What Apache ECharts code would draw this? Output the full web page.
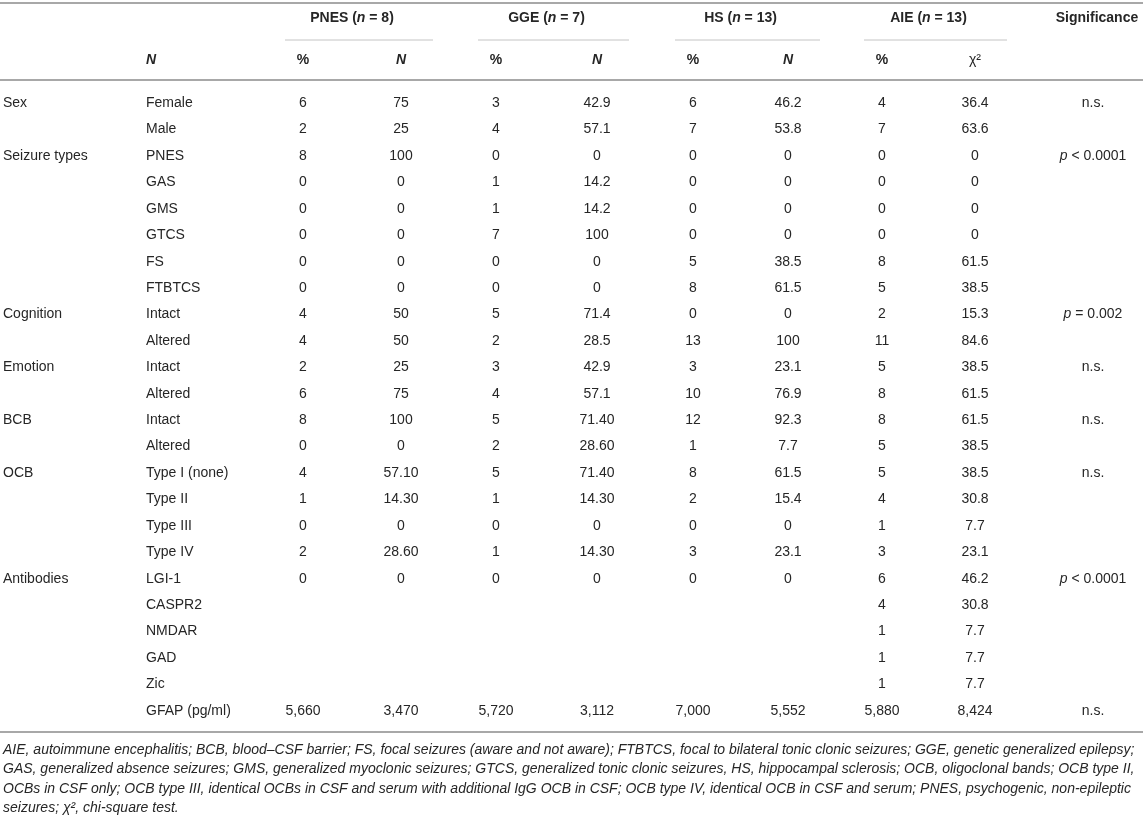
<!DOCTYPE html>
<html>
<head>
<meta charset="utf-8">
<title>Table</title>
<script src="https://cdn.jsdelivr.net/npm/echarts@6/dist/echarts.min.js"></script>
<style>
    html, body { margin: 0; padding: 0; background: #fff; }
    #tableChart { width: 1143px; height: 820px; }
</style>
</head>
<body>
<div id="tableChart"></div>
<script>
// row labels
var groups = ['Sex', '', 'Seizure types', '', '', '', '', '', 'Cognition', '', 'Emotion', '', 'BCB', '', 'OCB', '', '', '', 'Antibodies', '', '', '', '', ''];
var items = ['Female', 'Male', 'PNES', 'GAS', 'GMS', 'GTCS', 'FS', 'FTBTCS', 'Intact', 'Altered', 'Intact', 'Altered', 'Intact', 'Altered', 'Type I (none)', 'Type II', 'Type III', 'Type IV', 'LGI-1', 'CASPR2', 'NMDAR', 'GAD', 'Zic', 'GFAP (pg/ml)'];

// cell values per column
var pnesPct = ['6', '2', '8', '0', '0', '0', '0', '0', '4', '4', '2', '6', '8', '0', '4', '1', '0', '2', '0', '', '', '', '', '5,660'];
var pnesN = ['75', '25', '100', '0', '0', '0', '0', '0', '50', '50', '25', '75', '100', '0', '57.10', '14.30', '0', '28.60', '0', '', '', '', '', '3,470'];
var ggePct = ['3', '4', '0', '1', '1', '7', '0', '0', '5', '2', '3', '4', '5', '2', '5', '1', '0', '1', '0', '', '', '', '', '5,720'];
var ggeN = ['42.9', '57.1', '0', '14.2', '14.2', '100', '0', '0', '71.4', '28.5', '42.9', '57.1', '71.40', '28.60', '71.40', '14.30', '0', '14.30', '0', '', '', '', '', '3,112'];
var hsPct = ['6', '7', '0', '0', '0', '0', '5', '8', '0', '13', '3', '10', '12', '1', '8', '2', '0', '3', '0', '', '', '', '', '7,000'];
var hsN = ['46.2', '53.8', '0', '0', '0', '0', '38.5', '61.5', '0', '100', '23.1', '76.9', '92.3', '7.7', '61.5', '15.4', '0', '23.1', '0', '', '', '', '', '5,552'];
var aiePct = ['4', '7', '0', '0', '0', '0', '8', '5', '2', '11', '5', '8', '8', '5', '5', '4', '1', '3', '6', '4', '1', '1', '1', '5,880'];
var aieChi = ['36.4', '63.6', '0', '0', '0', '0', '61.5', '38.5', '15.3', '84.6', '38.5', '61.5', '61.5', '38.5', '38.5', '30.8', '7.7', '23.1', '46.2', '30.8', '7.7', '7.7', '7.7', '8,424'];
var significance = ['n.s.', '', 'p < 0.0001', '', '', '', '', '', 'p = 0.002', '', 'n.s.', '', 'n.s.', '', 'n.s.', '', '', '', 'p < 0.0001', '', '', '', '', 'n.s.'];

// header texts
var groupHeads = [['PNES', '8'], ['GGE', '7'], ['HS', '13'], ['AIE', '13']];
var subHeads = ['%', 'N', '%', 'N', '%', 'N', '%', 'χ²'];
var footnote = [
    'AIE, autoimmune encephalitis; BCB, blood\u2013CSF barrier; FS, focal seizures (aware and not aware); FTBTCS, focal to bilateral tonic clonic seizures; GGE, genetic generalized epilepsy;',
    'GAS, generalized absence seizures; GMS, generalized myoclonic seizures; GTCS, generalized tonic clonic seizures, HS, hippocampal sclerosis; OCB, oligoclonal bands; OCB type II,',
    'OCBs in CSF only; OCB type III, identical OCBs in CSF and serum with additional IgG OCB in CSF; OCB type IV, identical OCB in CSF and serum; PNES, psychogenic, non-epileptic',
    'seizures; \u03c7\u00b2, chi-square test.'
];

// layout
var FONT = '"Liberation Sans", Arial, Helvetica, sans-serif';
var TXT = '#262626';
var valueX = [303, 401, 496, 597, 693, 788, 882, 975];
var sigX = 1093;

var myChart = echarts.init(document.getElementById('tableChart'));

function cellSeries(texts, x, align) {
    return {
        type: 'custom',
        coordinateSystem: 'cartesian2d',
        silent: true,
        data: texts.map(function (t, i) { return [x, i]; }),
        renderItem: function (params, api) {
            var t = texts[params.dataIndex];
            if (!t) return null;
            var pt = api.coord([api.value(0), api.value(1)]);
            var rich = null;
            if (t.indexOf('p ') === 0) {
                t = '{i|p}' + t.slice(1);
                rich = { i: { fontStyle: 'italic', fontFamily: FONT, fontSize: 14, fill: TXT } };
            }
            return {
                type: 'text',
                x: pt[0],
                y: pt[1],
                style: {
                    text: t,
                    rich: rich,
                    align: align,
                    verticalAlign: 'middle',
                    fontFamily: FONT,
                    fontSize: 14,
                    fill: TXT
                }
            };
        }
    };
}

var series = [cellSeries(groups, 3, 'left'), cellSeries(items, 146, 'left')];
[pnesPct, pnesN, ggePct, ggeN, hsPct, hsN, aiePct, aieChi].forEach(function (col, k) {
    series.push(cellSeries(col, valueX[k], 'center'));
});
series.push(cellSeries(significance, sigX, 'center'));

// header, rules and footnote
var graphics = [];
function rule(y, x1, x2, w, c) {
    graphics.push({ type: 'line', silent: true, shape: { x1: x1, y1: y, x2: x2, y2: y }, style: { stroke: c, lineWidth: w } });
}
function txt(x, y, text, align, rich, extra) {
    var st = { text: text, x: x, y: y, align: align, verticalAlign: 'middle', fontFamily: FONT, fontSize: 14, fill: TXT };
    if (rich) st.rich = rich;
    if (extra) for (var k in extra) st[k] = extra[k];
    graphics.push({ type: 'text', silent: true, style: st });
}
var boldRich = {
    b: { fontWeight: 'bold', fontFamily: FONT, fontSize: 14, fill: TXT },
    bi: { fontWeight: 'bold', fontStyle: 'italic', fontFamily: FONT, fontSize: 14, fill: TXT }
};

rule(3, 0, 1143, 2, '#a8a8a8');
groupHeads.forEach(function (g, k) {
    var x1 = valueX[2 * k], x2 = valueX[2 * k + 1];
    txt((x1 + x2) / 2, 18, '{b|' + g[0] + ' (}{bi|n}{b| = ' + g[1] + ')}', 'center', boldRich);
    rule(40, x1 - 18, x2 + 32, 1, '#c4c4c4');
});
txt(sigX + 4, 18, 'Significance', 'center', null, { fontWeight: 'bold' });
txt(146, 60, 'N', 'left', null, { fontWeight: 'bold', fontStyle: 'italic' });
subHeads.forEach(function (s, k) {
    if (s === '%') txt(valueX[k], 60, s, 'center', null, { fontWeight: 'bold' });
    else if (s === 'N') txt(valueX[k], 60, s, 'center', null, { fontWeight: 'bold', fontStyle: 'italic' });
    else txt(valueX[k], 60, s, 'center');
});
rule(80, 0, 1143, 2, '#a8a8a8');
rule(732, 0, 1143, 2, '#a8a8a8');
txt(3, 740, footnote.join('\n'), 'left', null, { verticalAlign: 'top', fontStyle: 'italic', lineHeight: 19.5, fontSize: 14 });

var option = {
    animation: false,
    grid: { left: 0, right: 0, top: 90, bottom: 96 },
    xAxis: { type: 'value', min: 0, max: 1143, show: false },
    yAxis: { type: 'category', data: items, inverse: true, show: false },
    graphic: graphics,
    series: series
};

myChart.setOption(option);

window.addEventListener('resize', function () {
    myChart.resize();
});
</script>
</body>
</html>
